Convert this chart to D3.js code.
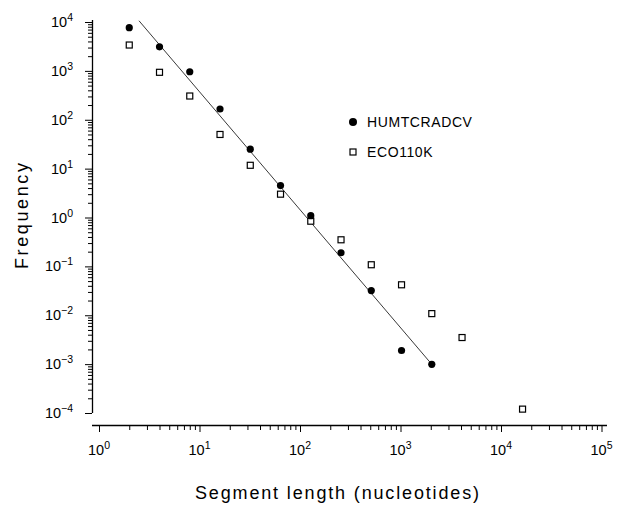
<!DOCTYPE html>
<html>
<head>
<meta charset="utf-8">
<script src="https://cdn.jsdelivr.net/npm/d3@7"></script>
<style>
	body { margin: 0; background: #fff; }
	svg { display: block; font-family: "Liberation Sans", Arial, sans-serif; }
	text { fill: #000; }
	.domain { stroke: #000; stroke-width: 1.3; }
	.tick line { stroke: #000; stroke-width: 1; }
</style>
</head>
<body>
<svg id="fig" width="626" height="506"></svg>
<script>

// DATA ========================================================================= //

var segLen = [2, 4, 8, 16, 32, 64, 128, 256, 512, 1024, 2048, 4096, 16384];

var humFreq = [7640, 3100, 960, 166, 25, 4.5, 1.09, 0.19, 0.032, 0.0019, 0.00099];

var ecoFreq = [3380, 935, 306, 50, 11.7, 3.0, 0.84, 0.35, 0.108, 0.042, 0.0108, 0.0035, 0.00012];

var fitX = [2.5, 2048],
	fitY = [10600, 0.00099];

var xDecades = [0, 1, 2, 3, 4, 5],
	yDecades = [-4, -3, -2, -1, 0, 1, 2, 3, 4];

var seriesNames = ["HUMTCRADCV", "ECO110K"];

// SETUP ======================================================================== //

var svg = d3.select("#fig");

var xScale = d3.scaleLog()
	.domain([1, 1e5])
	.range([99, 601.5]);

var yScale = d3.scaleLog()
	.domain([1e-4, 1e4])
	.range([413, 22]);

var xAxisY = 425,
	yAxisX = 92;

var supMinus = d => (d < 0 ? "\u2212" + Math.abs(d) : String(d));

// AXES ========================================================================= //

// minor ticks
svg.append("g")
	.attr("transform", `translate(0,${xAxisY})`)
	.call(d3.axisBottom(xScale)
		.tickValues(xScale.ticks().filter(d => Math.log10(d) % 1 != 0))
		.tickSize(5)
		.tickSizeOuter(0)
		.tickFormat(""))
	.call(g => g.select(".domain").remove());

svg.append("g")
	.attr("transform", `translate(${yAxisX},0)`)
	.call(d3.axisLeft(yScale)
		.tickValues(yScale.ticks().filter(d => Math.abs(Math.log10(d) % 1) > 1e-9))
		.tickSize(4)
		.tickSizeOuter(0)
		.tickFormat(""))
	.call(g => g.select(".domain").remove());

// major ticks
svg.append("g")
	.attr("transform", `translate(0,${xAxisY})`)
	.call(d3.axisBottom(xScale)
		.tickValues(xDecades.map(d => Math.pow(10, d)))
		.tickSize(7)
		.tickSizeOuter(0)
		.tickFormat(""))
	.call(g => g.select(".domain").attr("d", `M${yAxisX},0.5H607`));

svg.append("g")
	.attr("transform", `translate(${yAxisX},0)`)
	.call(d3.axisLeft(yScale)
		.tickValues(yDecades.map(d => Math.pow(10, d)))
		.tickSize(7)
		.tickSizeOuter(0)
		.tickFormat(""))
	.call(g => g.select(".domain").attr("d", `M0.5,20V${yScale(1e-4)}`));

// tick labels with superscripts
var xLabels = svg.append("g")
	.selectAll("text")
	.data(xDecades)
	.enter()
	.append("text")
	.attr("x", d => xScale(Math.pow(10, d)))
	.attr("y", 455)
	.attr("text-anchor", "middle")
	.attr("font-size", 14.5);
xLabels.append("tspan").text("10");
xLabels.append("tspan")
	.attr("dy", -6)
	.attr("font-size", 10.5)
	.text(d => supMinus(d));

var yLabels = svg.append("g")
	.selectAll("text")
	.data(yDecades)
	.enter()
	.append("text")
	.attr("x", 73)
	.attr("y", d => yScale(Math.pow(10, d)) + 5)
	.attr("text-anchor", "end")
	.attr("font-size", 14.5);
yLabels.append("tspan").text("10");
yLabels.append("tspan")
	.attr("dy", -6)
	.attr("font-size", 10.5)
	.text(d => supMinus(d));

// axis titles
svg.append("text")
	.attr("x", 337)
	.attr("y", 499)
	.attr("text-anchor", "middle")
	.attr("font-size", 18)
	.attr("textLength", 284)
	.attr("lengthAdjust", "spacing")
	.text("Segment length (nucleotides)");

svg.append("text")
	.attr("transform", "translate(28,216) rotate(-90)")
	.attr("text-anchor", "middle")
	.attr("font-size", 18)
	.attr("textLength", 106)
	.attr("lengthAdjust", "spacing")
	.text("Frequency");

// FIT LINE ===================================================================== //

svg.append("path")
	.datum(d3.zip(fitX, fitY))
	.attr("d", d3.line().x(d => xScale(d[0])).y(d => yScale(d[1])))
	.attr("fill", "none")
	.attr("stroke", "#222")
	.attr("stroke-width", 0.9);

// POINTS ======================================================================= //

svg.append("g")
	.selectAll("rect")
	.data(ecoFreq.map((v, i) => ({x: segLen[i], y: v})))
	.enter()
	.append("rect")
	.attr("x", d => xScale(d.x) - 3)
	.attr("y", d => yScale(d.y) - 3)
	.attr("width", 6)
	.attr("height", 6)
	.attr("fill", "#fff")
	.attr("stroke", "#000")
	.attr("stroke-width", 1.2);

svg.append("g")
	.selectAll("circle")
	.data(humFreq.map((v, i) => ({x: segLen[i], y: v})))
	.enter()
	.append("circle")
	.attr("cx", d => xScale(d.x))
	.attr("cy", d => yScale(d.y))
	.attr("r", 3.6)
	.attr("fill", "#000");

// LEGEND ======================================================================= //

svg.append("circle")
	.attr("cx", 353)
	.attr("cy", 122)
	.attr("r", 4)
	.attr("fill", "#000");

svg.append("rect")
	.attr("x", 350)
	.attr("y", 149)
	.attr("width", 6)
	.attr("height", 6)
	.attr("fill", "#fff")
	.attr("stroke", "#000")
	.attr("stroke-width", 1.2);

svg.append("g")
	.selectAll("text")
	.data(seriesNames)
	.enter()
	.append("text")
	.attr("x", 367)
	.attr("y", (d, i) => 127 + i * 30)
	.attr("font-size", 14)
	.attr("letter-spacing", 0.6)
	.text(d => d);

</script>
</body>
</html>
